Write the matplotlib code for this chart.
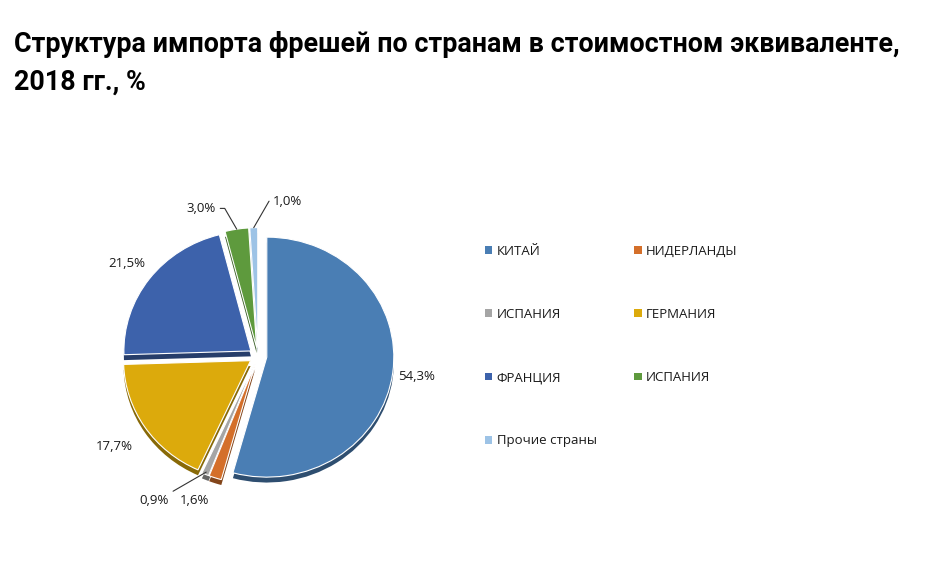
import matplotlib
matplotlib.use("Agg")
import matplotlib.pyplot as plt
import matplotlib.patches as mpatches
import numpy as np
import matplotlib.colors as mcolors

title = "Структура импорта фрешей по странам в стоимостном эквиваленте,\n2018 гг., %"
categories = ["КИТАЙ", "НИДЕРЛАНДЫ", "ИСПАНИЯ", "ГЕРМАНИЯ", "ФРАНЦИЯ", "ИСПАНИЯ", "Прочие страны"]
values = [54.3, 1.6, 0.9, 17.7, 21.5, 3.0, 1.0]
labels = ["54,3%", "1,6%", "0,9%", "17,7%", "21,5%", "3,0%", "1,0%"]
colors = ["#4a7eb4", "#d46f2a", "#a5a5a5", "#dcaa0c", "#3d62ab", "#5e9a3d", "#9dc3e6"]

W, H = 936, 566
fig = plt.figure(figsize=(W / 100, H / 100), dpi=100)
fig.patch.set_facecolor("white")

t = fig.text(14 / W, 1 - 31 / H, title, ha="left", va="top", fontsize=20,
             fontweight="bold", family=["Liberation Sans Narrow", "Roboto", "DejaVu Sans"],
             linespacing=1.5)
fig.canvas.draw()
bw = t.get_window_extent(fig.canvas.get_renderer()).width
t.set_fontsize(20 * 880 / bw)

lim = 1.22
aw, ah = 2 * lim * 127, 2 * lim * 120
cx, cy = 258, H - 356
ax = fig.add_axes([(cx - aw / 2) / W, (cy - ah / 2) / H, aw / W, ah / H])
ax.axis("off")

explode = [0.07] * len(values)
# depth layer (3D look)
dark = [tuple(np.array(mcolors.to_rgb(c)) * 0.62) for c in colors]
ax.pie(values, colors=dark, explode=explode, startangle=90, counterclock=False,
       center=(0, -0.045), radius=1.0, wedgeprops=dict(linewidth=0))
wedges, _ = ax.pie(values, colors=colors, explode=explode, startangle=90, counterclock=False,
                   radius=1.0, wedgeprops=dict(linewidth=0.8, edgecolor="white"))
ax.set_xlim(-lim, lim)
ax.set_ylim(-lim, lim)
ax.set_aspect("auto")

lab_font = dict(fontsize=9.5, family=["Open Sans", "DejaVu Sans"], color="#1a1a1a")


def mid(w):
    return np.deg2rad((w.theta1 + w.theta2) / 2)


def edge_pt(w, r=1.0):
    a = mid(w)
    cxw, cyw = w.center
    return cxw + r * np.cos(a), cyw + r * np.sin(a)


# big labels
for i, r in [(0, 1.26), (3, 1.36), (4, 1.29)]:
    a = mid(wedges[i])
    ax.text(r * np.cos(a), r * np.sin(a), labels[i], ha="center", va="center", **lab_font)

line_kw = dict(arrowstyle="-", color="#333333", lw=0.8, shrinkA=1, shrinkB=0)
ax.annotate(labels[5], xy=edge_pt(wedges[5]), xytext=(-0.33, 1.23), ha="right", va="center",
            arrowprops=dict(connectionstyle="angle,angleA=0,angleB=120,rad=0", **line_kw),
            **lab_font)
ax.annotate(labels[6], xy=edge_pt(wedges[6]), xytext=(0.12, 1.29), ha="left", va="center",
            arrowprops=dict(connectionstyle="angle,angleA=180,angleB=60,rad=0", **line_kw),
            **lab_font)
ax.annotate(labels[2], xy=edge_pt(wedges[2], 0.98), xytext=(-0.7, -1.2), ha="right", va="center",
            arrowprops=dict(connectionstyle="angle,angleA=0,angleB=-150,rad=0", **line_kw),
            **lab_font)
ax.text(-0.5, -1.2, labels[1], ha="center", va="center", **lab_font)

# legend (row-wise order like the reference)
order = [0, 2, 4, 6, 1, 3, 5]
handles = [mpatches.Patch(facecolor=colors[i], edgecolor="none") for i in order]
leg = fig.legend(handles, [categories[i] for i in order], loc="upper left",
                 bbox_to_anchor=(473 / W, 1 - 233 / H),
                 ncol=2, frameon=False, handlelength=0.55, handleheight=0.55,
                 handletextpad=0.35, columnspacing=2.85, labelspacing=3.8,
                 prop=dict(family=["Open Sans", "DejaVu Sans"], size=9.5))
for tx in leg.get_texts():
    tx.set_color("#1a1a1a")

fig.savefig("out.png", dpi=100, facecolor="white")
